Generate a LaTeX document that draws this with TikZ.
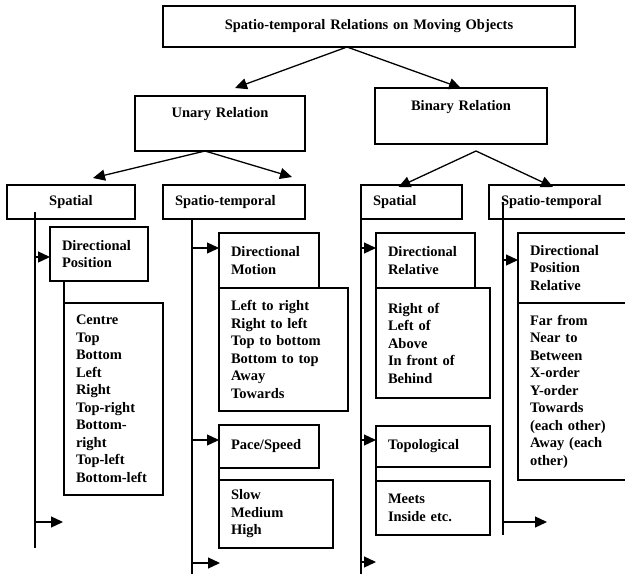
\documentclass[tikz,border=0pt]{standalone}
\usepackage{fontspec}
\setmainfont{Liberation Serif}
\usetikzlibrary{arrows.meta,calc}

\begin{document}
\begin{tikzpicture}
	[x=1pt,y=-1pt,line width=1.3pt,
	 every node/.style={draw,inner xsep=12pt,inner ysep=0pt,outer sep=0,anchor=north west,
	   font=\bfseries\fontsize{14.5}{17.5}\selectfont},
	 box/.style 2 args={text width=#1,minimum height=#2,align=left},
	 arr/.style={-{Triangle[length=12pt,width=11pt]}}]
	\useasboundingbox (0,0) rectangle (625,574);
	% top levels
	\node [box={388pt}{41pt},align=center] (title) at (163,6) {Spatio-temporal Relations on Moving Objects};
	\node [text width=146pt,align=center,text height=21pt,text depth=34pt] (unary) at (135,96) {Unary Relation};
	\node [text width=148pt,align=center,text height=22pt,text depth=34pt] (binary) at (375,88) {Binary Relation};
	\node [box={104pt}{34pt},align=center] (sp1) at (7,185) {Spatial};
	\node [box={118pt}{34pt}] (st1) at (163,185) {Spatio-temporal};
	\node [box={77pt}{34pt}] (sp2) at (361,185) {Spatial};
	\node [box={126pt}{34pt}] (st2) at (489,185) {Spatio-temporal};
	% unary spatial
	\node [box={74pt}{54pt}] (dirpos) at (50,227) {Directional\\Position};
	\node [box={75pt}{192pt}] (poslist) at (64,303) {Centre\\Top\\Bottom\\Left\\Right\\Top-right\\Bottom-\\right\\Top-left\\Bottom-left};
	% unary spatio-temporal
	\node [box={76pt}{55pt}] (dirmot) at (219,233) {Directional\\Motion};
	\node [box={105pt}{123pt}] (motlist) at (219,288) {Left to right\\Right to left\\Top to bottom\\Bottom to top\\Away\\Towards};
	\node [box={76pt}{43pt}] (pace) at (219,425) {Pace/Speed};
	\node [box={90pt}{68pt}] (speedlist) at (219,480) {Slow\\Medium\\High};
	% binary spatial
	\node [box={75pt}{55pt}] (dirrel) at (376,233) {Directional\\Relative};
	\node [box={90pt}{110pt}] (rellist) at (376,288) {Right of\\Left of\\Above\\In front of\\Behind};
	\node [box={90pt}{41pt}] (topo) at (376,426) {Topological};
	\node [box={90pt}{54pt}] (toplist) at (376,481) {Meets\\Inside etc.};
	% binary spatio-temporal
	\node [box={96pt}{70pt}] (dirposrel) at (518,233) {Directional\\Position\\Relative};
	\node [box={96pt}{177pt}] (farlist) at (518,303) {Far from\\Near to\\Between\\X-order\\Y-order\\Towards\\(each other)\\Away (each\\other)};
	% tree arrows
	\draw [arr] ($(title.south)+(-22,0)$) -- ($(unary.north)+(15,-8)$);
	\draw [arr] ($(title.south)+(-22,0)$) -- (binary.north);
	\draw [arr] ($(unary.south)+(-15,0)$) -- ($(sp1.north)+(22,-7)$);
	\draw [arr] ($(unary.south)+(-15,0)$) -- ($(st1.north east)+(-13,-8)$);
	\draw [arr] ($(binary.south)+(15,7)$) -- ($(sp2.north)+(-13,2)$);
	\draw [arr] ($(binary.south)+(15,7)$) -- ($(st2.north west)+(64,2)$);
	% trunk, unary spatial
	\coordinate (sp1end) at (35,548);
	\coordinate (sp1out) at (63,522);
	\draw ($(sp1.south west)+(28,-7)$) -- (sp1end);
	\draw [arr] ($(dirpos.north west)+(-15,30)$) -- ($(dirpos.north west)+(0,30)$);
	\draw (poslist.north west) -- (poslist.north west |- dirpos.south);
	\draw [arr] (sp1end |- sp1out) -- (sp1out);
	% trunk, unary spatio-temporal
	\coordinate (st1end) at (192,580);
	\coordinate (st1out) at (220,563);
	\draw ($(st1.south west)+(29,0)$) -- (st1end);
	\draw [arr] ($(dirmot.north west)+(-27,15)$) -- ($(dirmot.north west)+(0,15)$);
	\draw [arr] ($(pace.north west)+(-27,15)$) -- ($(pace.north west)+(0,15)$);
	\draw (pace.south west) -- (speedlist.north west);
	\draw [arr] (st1end |- st1out) -- (st1out);
	% trunk, binary spatial
	\coordinate (sp2end) at (361,580);
	\coordinate (sp2out) at (376,562);
	\draw (sp2.south west) -- (sp2end);
	\draw [arr] ($(dirrel.north west)+(-15,15)$) -- ($(dirrel.north west)+(0,15)$);
	\draw [arr] ($(topo.north west)+(-15,14)$) -- ($(topo.north west)+(0,14)$);
	\draw (topo.south west) -- (toplist.north west);
	\draw [arr] (sp2end |- sp2out) -- (sp2out);
	% trunk, binary spatio-temporal
	\coordinate (st2end) at (503,535);
	\coordinate (st2out) at (547,522);
	\draw ($(st2.south west)+(14,-17)$) -- (st2end);
	\draw [arr] ($(dirposrel.north west)+(-15,27)$) -- ($(dirposrel.north west)+(0,27)$);
	\draw [arr] (st2end |- st2out) -- (st2out);
\end{tikzpicture}
\end{document}
